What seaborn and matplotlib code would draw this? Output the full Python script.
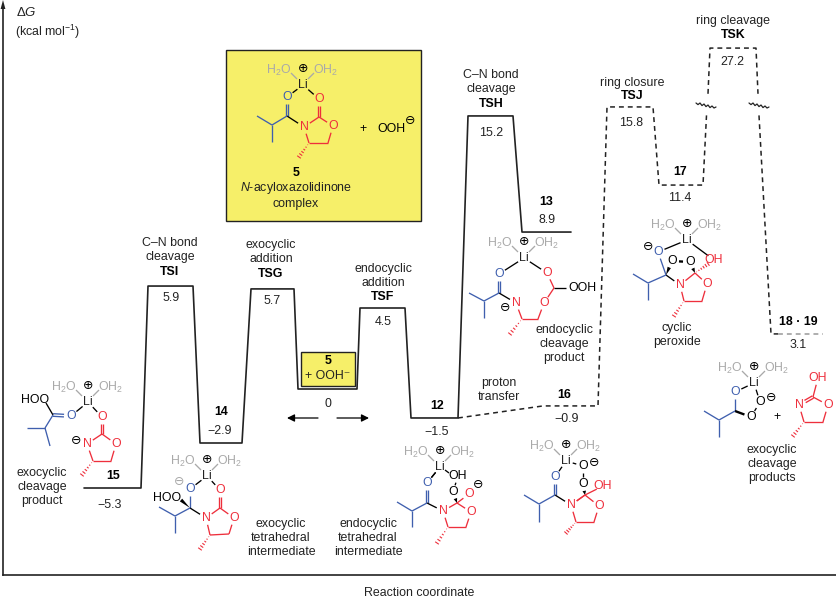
import numpy as np
import pandas as pd
import matplotlib
matplotlib.use("Agg")
import matplotlib.pyplot as plt
from matplotlib.patches import Rectangle, Polygon
import seaborn as sns

# stationary points, x is position along the reaction coordinate
solid_states = ["15", "TSI", "14", "TSG", "5", "TSF", "12", "TSH", "13"]
solid_start = [84, 148, 200, 251, 298, 360, 411, 468, 522]
solid_end = [141, 193, 242, 294, 357, 405, 458, 513, 571]
solid_height = [-5.5, 5.72, -3.0, 5.56, 0, 4.5, -1.61, 15.17, 8.72]

# the dashed route, cut in three by the axis break round TSK
route_a_x = [458, 543, 598, 607, 653, 659, 703, 706.5]
route_a_y = [-1.61, -0.94, -0.94, 15.67, 15.67, 11.33, 11.33, 15.2]
route_b_x = [708, 710, 756, 758]
route_b_y = [16.4, 18.94, 18.94, 16.4]
route_c_x = [759, 771, 778]
route_c_y = [15.2, 3.06, 3.06]
end_x = [778, 823]
end_y = [3.06, 3.06]

# text on the levels: label, x, y
energy_labels = [("5.9", 171, 298), ("5.7", 272, 301), ("4.5", 383, 322), ("15.2", 491, 133),
                 ("8.9", 547, 220), ("15.8", 631, 123), ("11.4", 680, 198), ("27.2", 732, 62),
                 ("3.1", 798, 345), ("0", 328, 404), ("\u22122.9", 220, 431), ("\u22125.3", 110, 505),
                 ("\u22121.5", 437, 432), ("\u22120.9", 567, 419)]
bold_labels = [("TSI", 170, 272), ("TSG", 271, 274), ("TSF", 383, 297), ("TSH", 491, 104),
               ("TSJ", 632, 96), ("TSK", 733, 35), ("14", 221, 412), ("15", 113, 476),
               ("12", 437, 406), ("16", 564, 395), ("13", 546, 202), ("17", 680, 172),
               ("18 \u00b7 19", 798, 322), ("5", 328, 361), ("5", 296, 173)]
plain_labels = [("C\u2013N bond\ncleavage", 170, 250), ("exocyclic\naddition", 271, 252),
                ("endocyclic\naddition", 383, 276), ("C\u2013N bond\ncleavage", 491, 82),
                ("ring closure", 632, 83), ("ring cleavage", 733, 21),
                ("exocyclic\ncleavage\nproduct", 42, 487), ("exocyclic\ntetrahedral\nintermediate", 281, 538),
                ("endocyclic\ntetrahedral\nintermediate", 368, 538), ("endocyclic\ncleavage\nproduct", 564, 344),
                ("proton\ntransfer", 499, 390), ("cyclic\nperoxide", 677, 335),
                ("exocyclic\ncleavage\nproducts", 772, 464), ("+ OOH\u207b", 328, 376),
                ("$\\it{N}$-acyloxazolidinone\ncomplex", 296, 195), ("Reaction coordinate", 419, 593)]

BLUE = "#3f5fae"
RED = "#ee2f3c"
GREY = "#a9a9a9"
YELLOW = "#f6ef69"
FS = 8.9

sns.set_theme(style="white")
plt.rcParams["font.family"] = ["Liberation Sans", "DejaVu Sans"]
plt.rcParams["mathtext.fontset"] = "custom"
plt.rcParams["mathtext.rm"] = "Liberation Sans"
plt.rcParams["mathtext.it"] = "Liberation Sans:italic"
plt.rcParams["mathtext.bf"] = "Liberation Sans:bold"

fig = plt.figure(figsize=(8.36, 5.99), dpi=100)
ax = fig.add_axes([3 / 836, (599 - 575) / 599, 833 / 836, (575 - 6) / 599])
ax.set_xlim(3, 836)
ax.set_ylim((389 - 575) / 18, (389 - 6) / 18)

solid_x, solid_y = [], []
for s, e, h in zip(solid_start, solid_end, solid_height):
    solid_x += [s, e]
    solid_y += [h, h]
solid = pd.DataFrame({"x": solid_x, "y": solid_y})
sns.lineplot(data=solid, x="x", y="y", ax=ax, sort=False, estimator=None, color="#222222", linewidth=1.2)

dash = (0, (3.2, 2.6))
routes = pd.concat([
    pd.DataFrame({"x": route_a_x, "y": route_a_y, "seg": "a"}),
    pd.DataFrame({"x": route_b_x, "y": route_b_y, "seg": "b"}),
    pd.DataFrame({"x": route_c_x, "y": route_c_y, "seg": "c"}),
])
sns.lineplot(data=routes, x="x", y="y", units="seg", ax=ax, sort=False, estimator=None,
             color="#222222", linewidth=1.1, linestyle=dash)
sns.lineplot(x=end_x, y=end_y, ax=ax, sort=False, estimator=None, color="#999999", linewidth=1.1, linestyle=dash)

ax.set_xticks([])
ax.set_yticks([])
ax.set_xlabel("")
ax.set_ylabel("")
sns.despine(ax=ax)
for side in ["left", "bottom"]:
    ax.spines[side].set_color("#222222")
    ax.spines[side].set_linewidth(1.2)

# overlay in picture pixels for labels and structures
ov = fig.add_axes([0, 0, 1, 1])
ov.set_xlim(0, 836)
ov.set_ylim(599, 0)
ov.axis("off")
ov.patch.set_alpha(0)


def txt(s, x, y, c="black", fw="normal", size=FS, ha="center", zorder=5):
    ov.text(x, y, s, color=c, fontweight=fw, fontsize=size, ha=ha, va="center",
            linespacing=1.2, zorder=zorder)


def seg(p, q, c="black", lw=0.95):
    ov.plot([p[0], q[0]], [p[1], q[1]], color=c, lw=lw, solid_capstyle="butt", zorder=4)


def bond(p, q, c, kind="s"):
    p, q = np.array(p, float), np.array(q, float)
    d = q - p
    n = np.array([-d[1], d[0]]) / max(np.hypot(*d), 1e-6)
    if kind == "s":
        seg(p, q, c)
    elif kind == "d":
        seg(p + n * 1.3, q + n * 1.3, c)
        seg(p - n * 1.3, q - n * 1.3, c)
    elif kind == "b":
        seg(p, q, c, lw=1.7)
    elif kind == "w":
        ov.add_patch(Polygon([p, q + n * 1.8, q - n * 1.8], closed=True, color=c, lw=0, zorder=4))
    elif kind == "h":
        for t in np.linspace(0.12, 1, 6):
            m = p + d * t
            seg(m - n * 2.2 * t, m + n * 2.2 * t, c, lw=0.8)


def mol(pts, atoms, bonds):
    for a, b, c, kind in bonds:
        p, q = np.array(pts[a], float), np.array(pts[b], float)
        u = (q - p) / np.hypot(*(q - p))
        # the Li label is drawn by li(), so it needs the gap as well
        if a in atoms or a == "Li":
            p = p + u * 7
        if b in atoms or b == "Li":
            q = q - u * 7
        bond(p, q, c, kind)
    for k, (label, c) in atoms.items():
        txt(label, pts[k][0], pts[k][1], c)


def li(x, y):
    txt("H$_2$O", x - 24, y - 15, GREY)
    txt("OH$_2$", x + 23, y - 15, GREY)
    txt("\u2295", x, y - 16, "black", size=9)
    txt("Li", x, y, "#222222")
    seg((x - 12, y - 12), (x - 6, y - 6), GREY)
    seg((x + 11, y - 12), (x + 5, y - 6), GREY)


def isopropyl(c, ch, me1, me2):
    bond(c, ch, BLUE)
    bond(ch, me1, BLUE)
    bond(ch, me2, BLUE)


def waves(x0, y0):
    ox = [0, 2, 4, 6, 8, 10, 12, 14, 16, 18, 20]
    oy = [0, 1.6, 0, 2.6, 1, 3.6, 2, 4.6, 3, 5, 4]
    ov.plot([x0 + a for a in ox], [y0 + b for b in oy], color="#222222", lw=0.9, zorder=4)


# axis arrow head
ov.add_patch(Polygon([(3, 0), (0.6, 9), (5.4, 9)], closed=True, color="#222222", lw=0, zorder=4))

# yellow boxes
ov.add_patch(Rectangle((226, 50), 195, 171, fc=YELLOW, ec="#222222", lw=1, zorder=1))
ov.add_patch(Rectangle((301, 352), 54, 34, fc=YELLOW, ec="#222222", lw=1, zorder=1))

for s, x, y in energy_labels:
    txt(s, x, y, "#222222")
for s, x, y in bold_labels:
    txt(s, x, y, "black", fw="bold")
for s, x, y in plain_labels:
    txt(s, x, y, "#222222")
txt("\u0394$\\it{G}$", 16, 12, "#222222", ha="left", size=9.5)
txt("(kcal mol$^{-1}$)", 15, 32, "#222222", ha="left")
txt("+", 363, 129, "black")
txt("OOH", 391, 129, "black")
txt("\u2296", 410, 121, "black", size=9)

# arrows under the 0 label
ov.annotate("", xy=(287, 418), xytext=(318, 418),
            arrowprops=dict(arrowstyle="-|>", color="black", lw=0.9, mutation_scale=11, shrinkA=0, shrinkB=0))
ov.annotate("", xy=(369, 418), xytext=(337, 418),
            arrowprops=dict(arrowstyle="-|>", color="black", lw=0.9, mutation_scale=11, shrinkA=0, shrinkB=0))

waves(696, 103)
waves(749, 103)

# complex 5
li(303, 85)
mol(dict(Li=(303, 85), Ob=(287, 97), C=(287, 116), N=(304, 127), Cr=(319, 117), Or=(319, 99),
         Oz=(333, 126), H2=(328, 143), CH=(309, 143), Me=(299, 157)),
    dict(Ob=("O", BLUE), Or=("O", RED), N=("N", RED), Oz=("O", RED)),
    [("Li", "Ob", "black", "s"), ("Li", "Or", "black", "s"), ("C", "Ob", BLUE, "d"), ("C", "N", "black", "s"),
     ("N", "Cr", RED, "s"), ("Cr", "Or", RED, "d"), ("Cr", "Oz", RED, "s"), ("Oz", "H2", RED, "s"),
     ("H2", "CH", RED, "s"), ("CH", "N", RED, "s"), ("CH", "Me", RED, "h")])
isopropyl((287, 116), (272, 125), (257, 116), (272, 142))

# 15, exocyclic cleavage product
li(88, 402)
txt("HOO", 35, 400, "black")
mol(dict(Li=(88, 402), Ob=(71, 416), C=(53, 415), Oo=(46, 403), N=(87, 444), Cr=(102, 434), Or=(102, 417),
         Oz=(116, 444), H2=(111, 461), CH=(93, 461), Me=(82, 475)),
    dict(Ob=("O", BLUE), Or=("O", RED), N=("N", RED), Oz=("O", RED)),
    [("Li", "Ob", "black", "s"), ("Li", "Or", "black", "s"), ("C", "Ob", BLUE, "d"), ("C", "Oo", "black", "s"),
     ("N", "Cr", RED, "s"), ("Cr", "Or", RED, "d"), ("Cr", "Oz", RED, "s"), ("Oz", "H2", RED, "s"),
     ("H2", "CH", RED, "s"), ("CH", "N", RED, "s"), ("CH", "Me", RED, "h")])
bond((53, 415), (45, 428), BLUE)
bond((45, 428), (27, 428), BLUE)
bond((45, 428), (50, 446), BLUE)
txt("\u2296", 76, 441, "black", size=9)

# 14, exocyclic tetrahedral intermediate
li(207, 476)
txt("\u2296", 179, 482, GREY, size=9)
txt("HOO", 167, 498, "black")
mol(dict(Li=(207, 476), Ob=(190, 489), C=(190, 508), Oo=(181, 500), N=(206, 518), Cr=(220, 508), Or=(220, 490),
         Oz=(234, 518), H2=(229, 534), CH=(210, 535), Me=(200, 549)),
    dict(Ob=("O", BLUE), Or=("O", RED), N=("N", RED), Oz=("O", RED)),
    [("Li", "Ob", "black", "s"), ("Li", "Or", "black", "s"), ("C", "Ob", BLUE, "s"), ("C", "Oo", "black", "w"),
     ("C", "N", "black", "s"), ("N", "Cr", RED, "s"), ("Cr", "Or", RED, "d"), ("Cr", "Oz", RED, "s"),
     ("Oz", "H2", RED, "s"), ("H2", "CH", RED, "s"), ("CH", "N", RED, "s"), ("CH", "Me", RED, "h")])
isopropyl((190, 508), (175, 516), (159, 507), (175, 533))

# 12 adduct, endocyclic tetrahedral intermediate
li(440, 467)
txt("\u2296", 478, 485, "black", size=9)
mol(dict(Li=(440, 467), Ob=(427, 483), C=(427, 503), N=(443, 511), Cr=(457, 503), Or=(469, 494),
         Oz=(471, 512), H2=(466, 527), CH=(448, 527), Me=(437, 543), Oh=(458, 476), Op=(453, 492)),
    dict(Ob=("O", BLUE), Or=("O", RED), N=("N", RED), Oz=("O", RED), Oh=("OH", "black"), Op=("O", "black")),
    [("Li", "Ob", "black", "s"), ("C", "Ob", BLUE, "d"), ("C", "N", "black", "s"), ("N", "Cr", RED, "s"),
     ("Cr", "Or", RED, "s"), ("Cr", "Oz", RED, "s"), ("Oz", "H2", RED, "s"), ("H2", "CH", RED, "s"),
     ("CH", "N", RED, "s"), ("CH", "Me", RED, "h"), ("Oh", "Op", "black", "s"), ("Cr", "Op", "black", "w"),
     ("Li", "Ob", "black", "s")])
seg((445, 470), (449, 473), "black")
isopropyl((427, 503), (412, 511), (397, 502), (412, 527))

# 16 adduct
li(566, 461)
txt("\u2296", 594, 463, "black", size=9)
mol(dict(Li=(566, 461), Ob=(555, 477), C=(555, 495), N=(571, 505), Cr=(585, 495), Oh=(603, 486),
         Oz=(599, 506), H2=(594, 522), CH=(576, 522), Me=(566, 533), Om=(583, 466), Op=(583, 484)),
    dict(Ob=("O", BLUE), N=("N", RED), Oz=("O", RED), Oh=("OH", RED), Om=("O", "black"), Op=("O", "black")),
    [("Li", "Ob", "black", "s"), ("Li", "Om", "black", "s"), ("C", "Ob", BLUE, "d"), ("C", "N", "black", "s"),
     ("N", "Cr", RED, "s"), ("Cr", "Oz", RED, "s"), ("Oz", "H2", RED, "s"), ("H2", "CH", RED, "s"),
     ("CH", "N", RED, "s"), ("CH", "Me", RED, "h"), ("Om", "Op", "black", "s"), ("Cr", "Op", "black", "w"),
     ("N", "Cr", RED, "s"), ("Cr", "Oh", RED, "s")])
isopropyl((555, 495), (539, 504), (524, 495), (539, 522))

# endocyclic cleavage product
li(524, 258)
txt("\u2296", 505, 308, "black", size=9)
txt("OOH", 582, 288, "black")
mol(dict(Li=(524, 258), Ob=(499, 274), C=(499, 293), N=(516, 303), CH=(522, 319), H2=(538, 319), Oz=(544, 303),
         Cc=(554, 288), Ot=(547, 273), Me=(510, 334)),
    dict(Ob=("O", BLUE), N=("N", RED), Oz=("O", RED), Ot=("O", RED)),
    [("Li", "Ob", "black", "s"), ("Li", "Ot", "black", "s"), ("C", "Ob", BLUE, "d"), ("C", "N", "black", "s"),
     ("N", "CH", RED, "s"), ("CH", "H2", RED, "s"), ("H2", "Oz", RED, "s"), ("Oz", "Cc", RED, "s"),
     ("Cc", "Ot", RED, "s"), ("CH", "Me", RED, "h")])
seg((554, 288), (566, 288), "black")
isopropyl((499, 293), (484, 301), (469, 293), (484, 318))

# cyclic peroxide
li(687, 240)
txt("\u2296", 648, 247, "black", size=9)
mol(dict(Li=(687, 240), Ob=(658, 252), C=(666, 275), N=(680, 285), Cr=(695, 273), Oh=(714, 260),
         Oz=(707, 284), H2=(702, 301), CH=(684, 301), Me=(674, 316), O1=(672, 261), O2=(690, 262)),
    dict(Ob=("O", BLUE), N=("N", RED), Oz=("O", RED), Oh=("OH", RED), O1=("O", "black"), O2=("O", "black")),
    [("Li", "Ob", "black", "s"), ("Li", "Oh", "black", "s"), ("C", "Ob", BLUE, "s"), ("C", "N", "black", "s"),
     ("N", "Cr", RED, "s"), ("Cr", "Oz", RED, "s"), ("Oz", "H2", RED, "s"), ("H2", "CH", RED, "s"),
     ("CH", "N", RED, "s"), ("CH", "Me", RED, "h"), ("C", "O1", "black", "w"), ("Cr", "O2", "black", "w"),
     ("O1", "O2", "black", "b"), ("Cr", "Oh", RED, "h")])
isopropyl((666, 275), (648, 283), (633, 274), (648, 300))

# exocyclic cleavage products
li(754, 383)
txt("\u2296", 771, 398, "black", size=9)
txt("+", 777, 417, "black")
mol(dict(Li=(754, 383), Ob=(735, 392), C=(735, 411), Om=(760, 402), Op=(751, 417)),
    dict(Ob=("O", BLUE), Om=("O", "black"), Op=("O", "black")),
    [("Li", "Ob", "black", "s"), ("Li", "Om", "black", "s"), ("C", "Ob", BLUE, "s"), ("C", "Op", "black", "b"),
     ("Om", "Op", "black", "s")])
isopropyl((735, 411), (719, 420), (704, 411), (719, 437))
mol(dict(Oh=(818, 378), C=(813, 397), N=(799, 405), Oz=(828, 405), H2=(823, 422), CH=(804, 422), Me=(793, 436)),
    dict(Oh=("OH", RED), N=("N", RED), Oz=("O", RED)),
    [("C", "Oh", RED, "s"), ("C", "N", RED, "d"), ("C", "Oz", RED, "s"), ("Oz", "H2", RED, "s"),
     ("H2", "CH", RED, "s"), ("CH", "N", RED, "s"), ("CH", "Me", RED, "h")])

fig.savefig("out.png", dpi=100, facecolor="white")
